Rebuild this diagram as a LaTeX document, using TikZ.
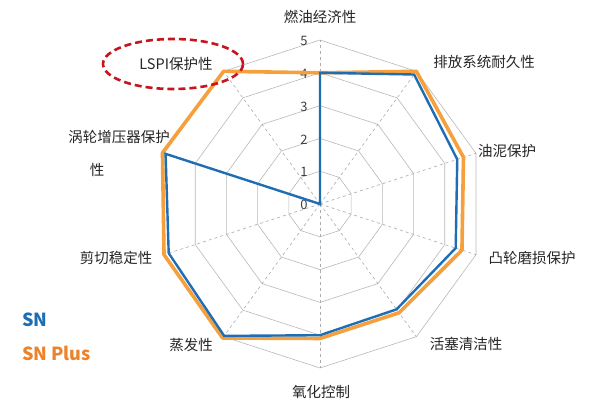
\documentclass[tikz,border=0pt]{standalone}
\usepackage{fontspec}
\setmainfont{Noto Sans CJK SC}
\usetikzlibrary{shapes.geometric}
\begin{document}
\begin{tikzpicture}[x=1pt,y=-1pt,
  ring/.style={draw=gray!55,line width=0.6pt},
  spoke/.style={draw=gray!65,dashed,line width=0.6pt},
  lbl/.style={font=\fontsize{14.5}{16}\selectfont,text=black!85,inner sep=1pt},
  num/.style={font=\fontsize{13}{14}\selectfont,text=black!75,inner sep=0pt},
  sn/.style={draw={rgb,255:red,31;green,110;blue,180},line width=2.4pt,line join=miter},
  snp/.style={draw={rgb,255:red,245;green,160;blue,60},line width=3.6pt,line join=bevel}]
\useasboundingbox (0,0) rectangle (600,404);
\fill[white] (0,0) rectangle (600,404);
\def\cx{320}\def\cy{204}\def\u{32.8}
% rings
\foreach \r in {1,...,5}{
  \draw[ring] ({\cx},{\cy-\u*\r})
    \foreach \k in {1,...,9}{ -- ({\cx+\u*\r*sin(36*\k)},{\cy-\u*\r*cos(36*\k)}) } -- cycle;
}
\foreach \k in {0,...,9}{
  \draw[spoke] (\cx,\cy) -- ({\cx+\u*5*sin(36*\k)},{\cy-\u*5*cos(36*\k)});
}
\foreach \r in {0,...,5}{
  \node[num] (n\r) at ({\cx-16},{\cy-\u*\r+1}) {\r};
}
% data points
\foreach \v [count=\k from 0] in {4,5,4.6,4.55,4.1,4.1,5.05,5.0,5.05,5.0}{
  \coordinate (p\k) at ({\cx+\u*\v*sin(36*\k)},{\cy-\u*\v*cos(36*\k)});
}
\foreach \v [count=\k from 0] in {4,4.88,4.4,4.35,3.97,4.0,4.97,4.85,4.95,0}{
  \coordinate (b\k) at ({\cx+\u*\v*sin(36*\k)},{\cy-\u*\v*cos(36*\k)});
}
\draw[snp] (p0)--(p1)--(p2)--(p3)--(p4)--(p5)--(p6)--(p7)--(p8)--(p9)--cycle;
\draw[sn] (b0)--(b1)--(b2)--(b3)--(b4)--(b5)--(b6)--(b7)--(b8)--(b9)--cycle;
% labels
\node[lbl] (a0) at (320,17) {燃油经济性};
\node[lbl] (a1) at (484,62) {排放系统耐久性};
\node[lbl] (a2) at (507,151) {油泥保护};
\node[lbl] (a3) at (532,258) {凸轮磨损保护};
\node[lbl] (a4) at (466,344) {活塞清洁性};
\node[lbl] (a5) at (321,392) {氧化控制};
\node[lbl] (a6) at (191,345) {蒸发性};
\node[lbl] (a7) at (116,258) {剪切稳定性};
\node[lbl] (a8) at (119,137) {涡轮增压器保护};
\node[lbl] (a8b) at (97,170) {性};
\node[lbl] (a9) at (176,64) {LSPI保护性};
\node[draw={rgb,255:red,200;green,20;blue,30},dash pattern=on 7pt off 4pt,line width=2.6pt,ellipse,minimum width=140pt,minimum height=50pt] (hl) at (173,64) {};
% legend
\node[anchor=west,font=\bfseries\fontsize{18}{20}\selectfont,text={rgb,255:red,31;green,110;blue,180},inner sep=0pt] (l1) at (22,320) {SN};
\node[anchor=west,font=\bfseries\fontsize{18}{20}\selectfont,text={rgb,255:red,237;green,130;blue,40},inner sep=0pt] (l2) at (22,353) {SN Plus};
\end{tikzpicture}
\end{document}
